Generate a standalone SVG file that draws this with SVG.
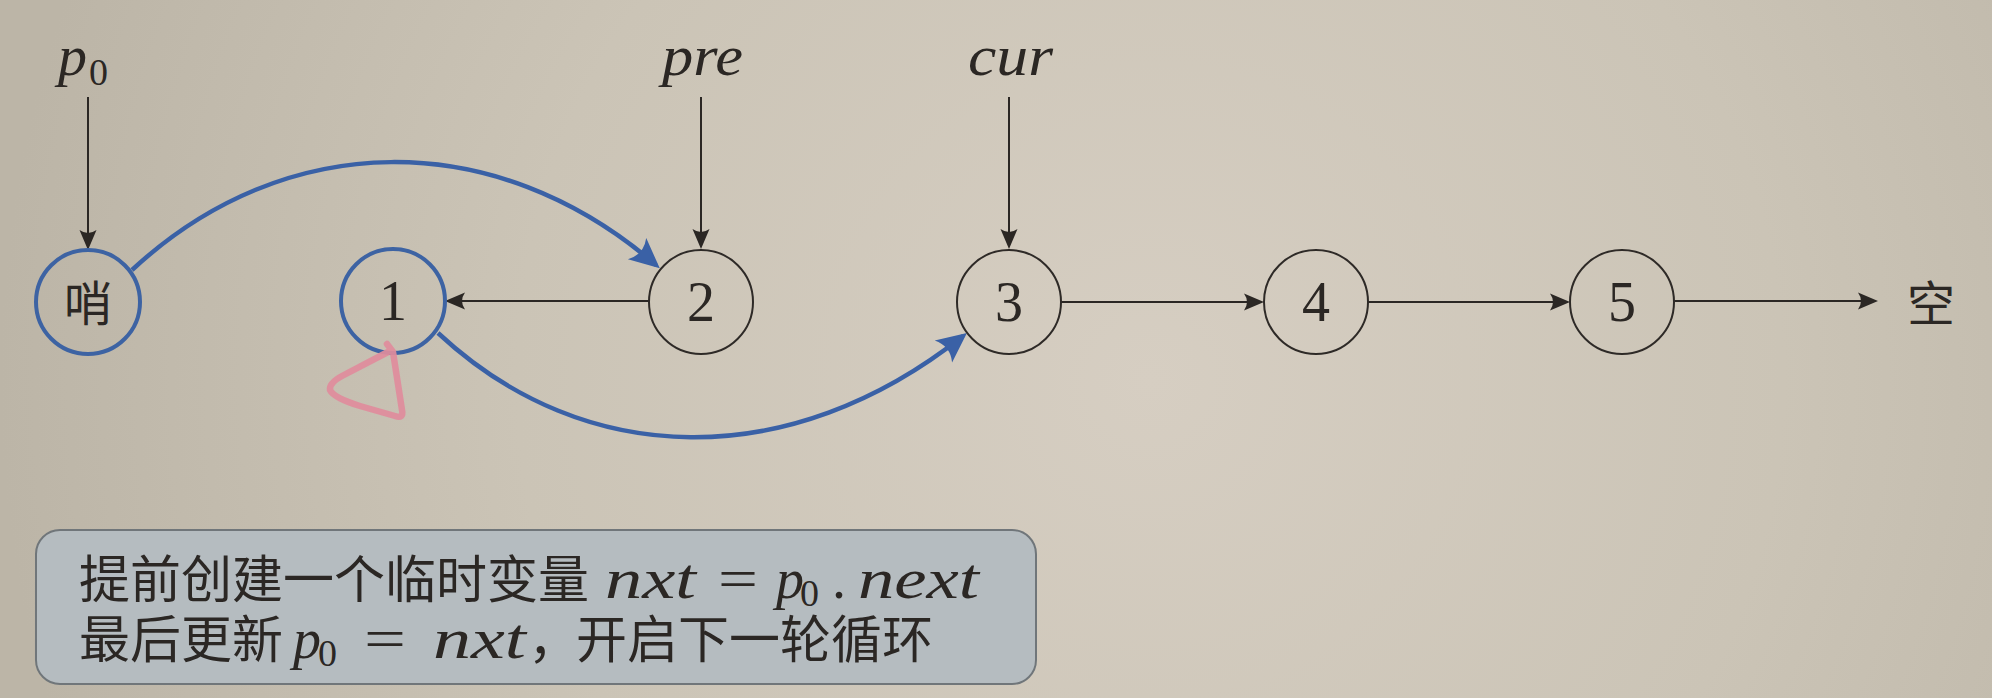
<svg xmlns="http://www.w3.org/2000/svg" width="1992" height="698" viewBox="0 0 1992 698">
<defs>
  <radialGradient id="bg" cx="1150" cy="380" r="1150" gradientUnits="userSpaceOnUse">
    <stop offset="0" stop-color="#d6cec2"/>
    <stop offset="0.55" stop-color="#cbc4b6"/>
    <stop offset="1" stop-color="#bcb5a7"/>
  </radialGradient>
  <marker id="ah" viewBox="-22 -10 24 20" refX="-3" refY="0" markerWidth="24" markerHeight="20" markerUnits="userSpaceOnUse" orient="auto">
    <path d="M0,0 L-20,-8.5 Q-14,0 -20,8.5 Z" fill="#2b2724"/>
  </marker>
  <marker id="ahb" viewBox="-32 -16 34 32" refX="-5" refY="0" markerWidth="34" markerHeight="32" markerUnits="userSpaceOnUse" orient="auto">
    <path d="M0,0 L-30,-14 Q-21,0 -30,14 Z" fill="#3a61a6"/>
  </marker>
  <style>
    .node { fill: none; stroke: #2e2a27; stroke-width: 2; }
    .node-blue { fill: none; stroke: #3d63a3; stroke-width: 4; }
    .num { font-family: "Liberation Serif", serif; font-size: 56px; fill: #2b2724; text-anchor: middle; }
    .cjk { font-family: "Noto Sans CJK SC", sans-serif; fill: #2b2724; }
    .mi { font-family: "Liberation Serif", serif; font-style: italic; fill: #2b2724; }
    .rm { font-family: "Liberation Serif", serif; font-style: normal; fill: #2b2724; }
    .line { font-family: "Noto Sans CJK SC", sans-serif; font-size: 51px; fill: #2b2724; }
    .edge { stroke: #2b2724; stroke-width: 2; fill: none; marker-end: url(#ah); }
    .blue { stroke: #3a61a6; stroke-width: 4.5; fill: none; marker-end: url(#ahb); }
    .mark { stroke: #e08c9c; stroke-width: 6.5; fill: none; stroke-linecap: round; stroke-linejoin: round; opacity: 0.92; }
  </style>
</defs>
<rect x="0" y="0" width="1992" height="698" fill="url(#bg)"/>

<g id="labels">
  <text id="label-p0" class="mi" x="58" y="75" font-size="58">p<tspan class="rm" x="89" y="85" font-size="38">0</tspan></text>
  <text id="label-pre" class="mi" x="662" y="75" font-size="58" textLength="81" lengthAdjust="spacingAndGlyphs">pre</text>
  <text id="label-cur" class="mi" x="968" y="75" font-size="58" textLength="85" lengthAdjust="spacingAndGlyphs">cur</text>
</g>

<g id="connectors">
  <path class="edge" d="M88,97 L88,247"/>
  <path class="edge" d="M701,97 L701,246"/>
  <path class="edge" d="M1009,97 L1009,246"/>
  <path class="edge" d="M649,301 L448,301"/>
  <path class="edge" d="M1061,302 L1261,302"/>
  <path class="edge" d="M1368,302 L1567,302"/>
  <path class="edge" d="M1674,301 L1875,301"/>
  <path class="blue" d="M132,270 C285,128 495,126 656,265"/>
  <path class="blue" d="M438,333 C585,470 790,473 963,336"/>
</g>

<g id="node-sentinel">
  <circle class="node-blue" cx="88" cy="302" r="52"/>
  <text class="cjk" x="88" y="321" font-size="48" text-anchor="middle">哨</text>
</g>
<g id="node-1">
  <circle class="node-blue" cx="393" cy="301" r="52"/>
  <text class="num" x="393" y="320">1</text>
</g>
<g id="node-2">
  <circle class="node" cx="701" cy="302" r="52"/>
  <text class="num" x="701" y="321">2</text>
</g>
<g id="node-3">
  <circle class="node" cx="1009" cy="302" r="52"/>
  <text class="num" x="1009" y="321">3</text>
</g>
<g id="node-4">
  <circle class="node" cx="1316" cy="302" r="52"/>
  <text class="num" x="1316" y="321">4</text>
</g>
<g id="node-5">
  <circle class="node" cx="1622" cy="302" r="52"/>
  <text class="num" x="1622" y="321">5</text>
</g>
<g id="node-null">
  <text class="cjk" x="1931" y="321" font-size="48" text-anchor="middle">空</text>
</g>

<path id="pink-mark" class="mark" d="M387,344 L393,352 Q398,385 402,410 Q404,419 395,416 L360,406 Q334,398 330,390 Q329,383 342,376 L388,352"/>

<g id="note">
  <rect x="36" y="530" width="1000" height="154" rx="24" fill="#b5bcc0" stroke="#70767a" stroke-width="2"/>
  <text class="line" x="79" y="598">提前创建一个临时变量<tspan class="mi" x="605" font-size="56" textLength="91" lengthAdjust="spacingAndGlyphs">nxt</tspan><tspan class="rm" x="718" font-size="56" textLength="40" lengthAdjust="spacingAndGlyphs">=</tspan><tspan class="mi" x="776" font-size="56">p</tspan><tspan class="rm" x="800" y="606" font-size="38">0</tspan><tspan class="rm" x="832" y="598" font-size="56">.</tspan><tspan class="mi" x="858" font-size="56" textLength="121" lengthAdjust="spacingAndGlyphs">next</tspan></text>
  <text class="line" x="79" y="658">最后更新<tspan class="mi" x="293" font-size="56">p</tspan><tspan class="rm" x="318" y="666" font-size="38">0</tspan><tspan class="rm" x="364" y="658" font-size="56" textLength="42" lengthAdjust="spacingAndGlyphs">=</tspan><tspan class="mi" x="433" font-size="56" textLength="93" lengthAdjust="spacingAndGlyphs">nxt</tspan><tspan x="528">，</tspan><tspan x="576">开启下一轮循环</tspan></text>
</g>
</svg>
